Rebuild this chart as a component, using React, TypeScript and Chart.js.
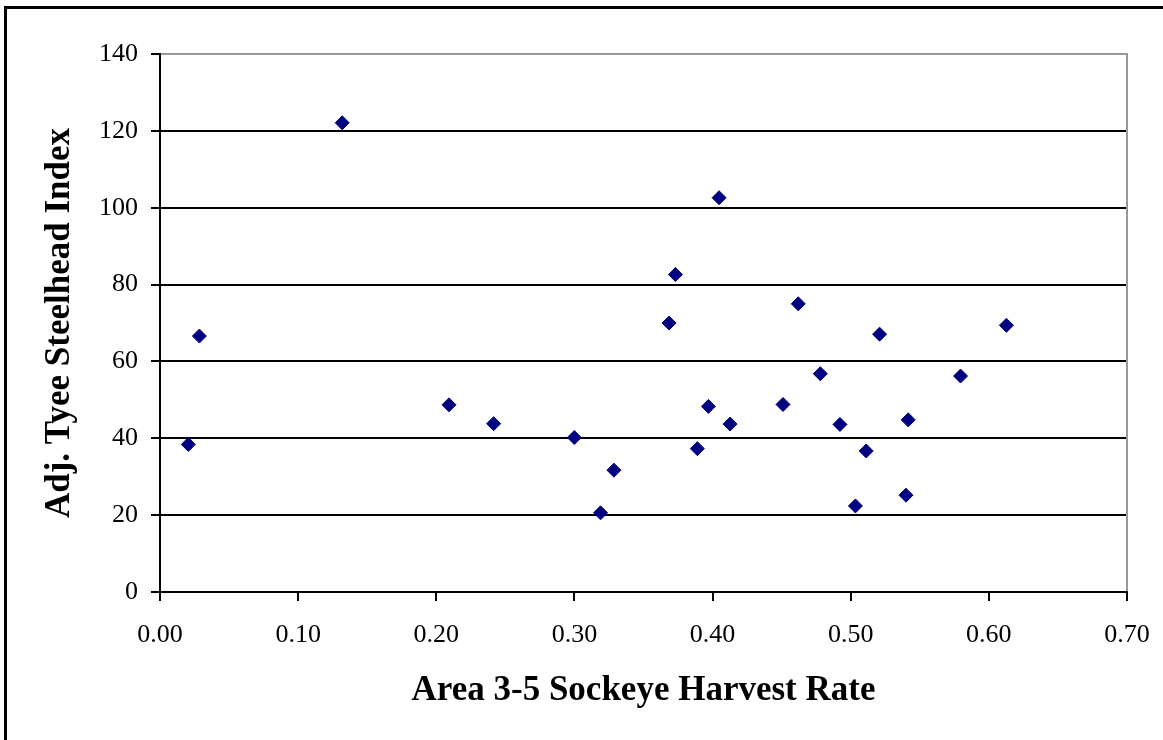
import React, { useEffect, useRef } from "react";
import { Chart, registerables } from "chart.js";

Chart.register(...registerables);

// Area 3-5 Sockeye harvest rate (x) and adjusted Tyee steelhead index (y)
const harvestRate: number[] = [
  0.0205, 0.0285, 0.1319, 0.2092, 0.2415, 0.2999, 0.3189, 0.3286, 0.3685,
  0.3731, 0.389, 0.397, 0.4047, 0.4127, 0.451, 0.462, 0.478, 0.4922, 0.5034,
  0.5112, 0.5209, 0.54, 0.5416, 0.5795, 0.6127,
];
const steelheadIndex: number[] = [
  38.4, 66.6, 122.1, 48.7, 43.8, 40.2, 20.6, 31.7, 70.0, 82.6, 37.3, 48.3,
  102.6, 43.7, 48.8, 75.0, 56.8, 43.6, 22.4, 36.7, 67.1, 25.2, 44.8, 56.2,
  69.4,
];
const xTitle = "Area 3-5 Sockeye Harvest Rate";
const yTitle = "Adj. Tyee Steelhead Index";
const xMin = 0;
const xMax = 0.7;
const xStep = 0.1;
const yMin = 0;
const yMax = 140;
const yStep = 20;

const FONT = "'Liberation Serif', 'Times New Roman', serif";

const framePlugin = {
  id: "frame",
  beforeDraw(chart: any) {
    const { ctx, width, height } = chart;
    ctx.save();
    ctx.fillStyle = "#ffffff";
    ctx.fillRect(0, 0, width, height);
    ctx.strokeStyle = "#000000";
    ctx.lineWidth = 3;
    ctx.beginPath();
    ctx.moveTo(5.5, 6);
    ctx.lineTo(5.5, height);
    ctx.moveTo(4, 7.5);
    ctx.lineTo(width, 7.5);
    ctx.stroke();
    ctx.restore();
  },
  beforeDatasetsDraw(chart: any) {
    const { ctx, chartArea } = chart;
    ctx.save();
    ctx.strokeStyle = "#999999";
    ctx.lineWidth = 2;
    ctx.beginPath();
    ctx.moveTo(chartArea.left + 1, chartArea.top);
    ctx.lineTo(chartArea.right, chartArea.top);
    ctx.lineTo(chartArea.right, chartArea.bottom - 1);
    ctx.stroke();
    ctx.restore();
  },
};

export default function App() {
  const canvasRef = useRef<HTMLCanvasElement | null>(null);

  useEffect(() => {
    if (!canvasRef.current) return;
    const points = harvestRate.map((x, i) => ({ x, y: steelheadIndex[i] }));
    const chart = new Chart(canvasRef.current, {
      type: "scatter",
      data: {
        datasets: [
          {
            data: points,
            pointStyle: "rectRot",
            pointRadius: 7,
            pointBackgroundColor: "#000080",
            pointBorderColor: "#000080",
            pointBorderWidth: 1,
          },
        ],
      },
      options: {
        responsive: false,
        animation: false,
        devicePixelRatio: 1,
        layout: { padding: { left: 0, right: 36, top: 54, bottom: 0 } },
        plugins: {
          legend: { display: false },
          tooltip: { enabled: false },
        },
        scales: {
          x: {
            type: "linear",
            min: xMin,
            max: xMax,
            afterFit: (scale: any) => {
              scale.height = 148;
              scale.paddingLeft = 0;
              scale.paddingRight = 0;
            },
            ticks: {
              stepSize: xStep,
              color: "#000000",
              padding: 19,
              font: { family: FONT, size: 26 },
              maxRotation: 0,
              callback: (v: any) => Number(v).toFixed(2),
            },
            grid: {
              drawOnChartArea: false,
              drawTicks: true,
              tickLength: 9,
              color: "#000000",
              lineWidth: 2,
            },
            border: { display: true, color: "#000000", width: 2 },
            title: {
              display: true,
              text: xTitle,
              color: "#000000",
              font: { family: FONT, size: 35, weight: "bold" },
              padding: { top: 0, bottom: 28 },
            },
          },
          y: {
            type: "linear",
            min: yMin,
            max: yMax,
            afterFit: (scale: any) => {
              scale.width = 160;
              scale.paddingTop = 0;
              scale.paddingBottom = 0;
            },
            ticks: {
              stepSize: yStep,
              color: "#000000",
              padding: 13,
              font: { family: FONT, size: 26 },
            },
            grid: {
              drawTicks: true,
              tickLength: 9,
              color: "#000000",
              lineWidth: 2,
            },
            border: { display: true, color: "#000000", width: 2 },
            title: {
              display: true,
              text: yTitle,
              color: "#000000",
              font: { family: FONT, size: 35, weight: "bold" },
              padding: { top: 39, bottom: 0 },
            },
          },
        },
      },
      plugins: [framePlugin],
    });
    return () => chart.destroy();
  }, []);

  return (
    <div
      style={{
        position: "fixed",
        left: 0,
        top: 0,
        width: 1163,
        height: 740,
        background: "#ffffff",
      }}
    >
      <canvas ref={canvasRef} width={1163} height={740} />
    </div>
  );
}
